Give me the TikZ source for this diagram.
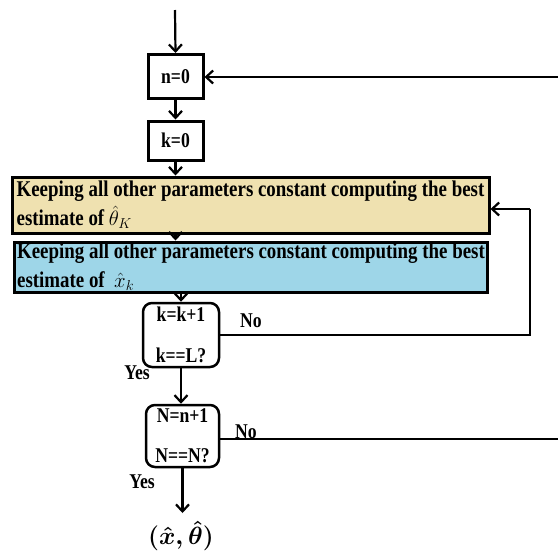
\documentclass[tikz,border=0pt]{standalone}
\usepackage{fontspec}
\setmainfont{Liberation Serif}
\newfontfamily\flowfont[FakeStretch=0.84]{Liberation Serif}
\usetikzlibrary{arrows.meta}
\usetikzlibrary{calc}
\definecolor{wheatbox}{RGB}{239, 225, 176}
\definecolor{skybox}{RGB}{158, 214, 232}

\begin{document}
\begin{tikzpicture}[x=1pt, y=-1pt,
    flow/.style={line width=2.2pt, -{Straight Barb[length=7pt,width=13pt,line width=2.2pt]}},
    wire/.style={line width=2.2pt},
    initbox/.style={draw, line width=3pt, minimum width=55pt, inner sep=0pt,
                    font=\flowfont\bfseries\fontsize{21}{24}\selectfont},
    keepbox/.style={draw, line width=3pt, align=left, inner xsep=3pt, inner ysep=0pt,
                    font=\flowfont\bfseries\fontsize{22.5}{29}\selectfont},
    testbox/.style={draw, line width=2.5pt, rounded corners=9pt, align=center, inner sep=0pt,
                    font=\flowfont\bfseries\fontsize{21}{22}\selectfont},
    tag/.style={font=\flowfont\bfseries\fontsize{21}{24}\selectfont}]
            % Frame to ensure alignment:
            \useasboundingbox (0,0) rectangle (558,558);

            % Counters
            \coordinate (entry) at (175,10);
            \node[initbox, minimum height=44pt] (nzero) at (175.5,76.5) {n=0};
            \node[initbox, minimum height=39pt] (kzero) at (175.5,140.5) {k=0};

            % Parameter updates
            \node[keepbox, fill=wheatbox, minimum width=477pt, minimum height=56pt] (keeptheta) at (250.5,205)
                 {Keeping all other parameters constant computing the best\\estimate of $\hat{\theta}_K$};
            \node[keepbox, fill=skybox,   minimum width=472pt, minimum height=50pt] (keepx)     at (251,267)
                 {Keeping all other parameters constant computing the best\\estimate of \ $\hat{x}_k$};

            % Loop tests
            \node[testbox, minimum width=76pt, minimum height=64pt] (ktest) at (181,335)
                 {k=k+1\\[19pt]k==L?};
            \node[testbox, minimum width=73pt, minimum height=62pt] (ntest) at (182.5,436)
                 {N=n+1\\[18pt]N==N?};
            \node[font=\fontsize{30}{32}\selectfont\boldmath] (result) at (181,536) {$(\hat{x},\hat{\theta})$};

            % Main flow
            \draw[flow] (entry) -- (nzero.north);
            \draw[flow] (nzero.south) -- (kzero.north);
            \draw[flow] (kzero.south) -- (kzero.south |- keeptheta.north);
            \draw[flow] (kzero.south |- keeptheta.south) -- (kzero.south |- keepx.north);
            \draw[flow] (ktest.north |- keepx.south) -- (ktest.north);
            \draw[flow] (ktest.south) -- (ktest.south |- ntest.north);
            \draw[flow] (ntest.south) -- (ntest.south |- 0,513);

            % Return paths
            \coordinate (kback) at (530,209);
            \coordinate (nback) at (558,77);
            \coordinate (nout)  at (558,439);
            \draw[wire] (ktest.east) -| (kback);
            \draw[flow] (kback) -- (keeptheta.east |- kback);
            \draw[wire] (ntest.east |- nout) -- (nout);
            \draw[flow] (nback) -- (nzero.east |- nback);

            % Branch labels
            \node[tag] (kno)  at (251,321) {No};
            \node[tag] (kyes) at (137,373) {Yes};
            \node[tag] (nno)  at (246,432) {No};
            \node[tag] (nyes) at (142,482) {Yes};
        \end{tikzpicture}
\end{document}
